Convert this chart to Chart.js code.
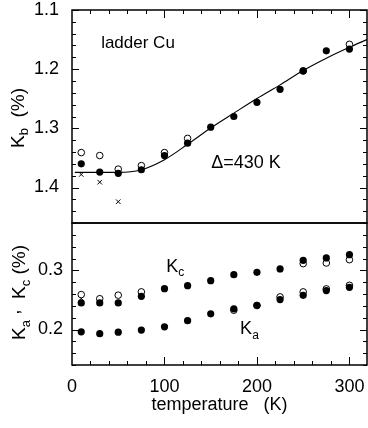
<!DOCTYPE html>
<html>
<head>
<meta charset="utf-8">
<script src="https://cdn.jsdelivr.net/npm/chart.js@4/dist/chart.umd.min.js"></script>
<style>
  body { margin: 0; background: #fff; }
  #wrap { position: relative; width: 368px; height: 428px; }
  canvas { position: absolute; left: 0; }
</style>
</head>
<body>
<div id="wrap">
  <canvas id="topChart" width="368" height="224" style="top:0"></canvas>
  <canvas id="botChart" width="368" height="206" style="top:222px"></canvas>
</div>
<script>
// temperatures (K)
const temps = [10, 30, 50, 75, 100, 125, 150, 175, 200, 225, 250, 275, 300];

// Kb (%) - top panel
const kbFilled = [1.360, 1.374, 1.376, 1.370, 1.346, 1.325, 1.298, 1.280, 1.256, 1.234, 1.203, 1.169, 1.166];
const kbOpenTemps = [10, 30, 50, 75, 100, 125, 250, 300];
const kbOpen = [1.341, 1.346, 1.369, 1.363, 1.341, 1.317, 1.203, 1.158];
const kbCrossTemps = [10, 30, 50];
const kbCross = [1.378, 1.391, 1.424];
// fit curve, Delta = 430 K
const fitTemps = [3, 25, 50, 75, 100, 125, 150, 175, 200, 225, 250, 275, 300, 319];
const fitKb = [1.3745, 1.3745, 1.3745, 1.370, 1.353, 1.327, 1.2995, 1.2743, 1.2495, 1.2265, 1.2023, 1.1815, 1.163, 1.150];

// Kc, Ka (%) - bottom panel
const kcFilled = [0.245, 0.245, 0.245, 0.256, 0.269, 0.274, 0.2826, 0.2927, 0.2966, 0.3023, 0.317, 0.321, 0.3265];
const kcOpenTemps = [10, 30, 50, 75, 250, 275, 300];
const kcOpen = [0.259, 0.252, 0.258, 0.2636, 0.3113, 0.3124, 0.318];
const kcCrossTemps = [10];
const kcCross = [0.2525];
const kaFilled = [0.196, 0.193, 0.1955, 0.199, 0.2045, 0.215, 0.2265, 0.235, 0.241, 0.2506, 0.2578, 0.2658, 0.2713];
const kaOpenTemps = [175, 200, 225, 250, 275, 300];
const kaOpen = [0.2326, 0.2405, 0.2551, 0.2636, 0.2686, 0.2747];

// tick labels
const xTicks = [0, 100, 200, 300];
const kbTicks = [1.1, 1.2, 1.3, 1.4];
const kakcTicks = [0.2, 0.3];

Chart.defaults.font.family = "'Liberation Sans', Arial, Helvetica, sans-serif";
Chart.defaults.color = '#000';

const pts = (xs, ys) => xs.map((x, i) => ({ x: x, y: ys[i] }));

const filled = (data) => ({ data, pointRadius: 3.6, pointBackgroundColor: '#000', pointBorderColor: '#000', pointBorderWidth: 0, order: 0 });
const open = (data) => ({ data, pointRadius: 3.3, pointBackgroundColor: '#fff', pointBorderColor: '#000', pointBorderWidth: 1, order: 1 });
const cross = (data) => ({ data, pointStyle: 'crossRot', pointRadius: 3.2, pointBorderColor: '#000', pointBorderWidth: 1, order: 2 });

// no automatic label padding: the plot box is set by layout.padding only
const noPad = s => { s.paddingTop = 0; s.paddingBottom = 0; s.paddingLeft = 0; s.paddingRight = 0; };

// frame + inward ticks
const frameTicks = {
  id: 'frameTicks',
  afterDraw(chart, args, opts) {
    const { ctx, chartArea: a, scales: { x, y } } = chart;
    ctx.save();
    ctx.strokeStyle = '#000';
    ctx.lineWidth = 1.5;
    ctx.strokeRect(a.left, a.top, a.right - a.left, a.bottom - a.top);
    ctx.lineWidth = 1;
    ctx.beginPath();
    const i0 = Math.ceil(Math.min(y.min, y.max) / 0.02 - 1e-6);
    const i1 = Math.floor(Math.max(y.min, y.max) / 0.02 + 1e-6);
    for (let i = i0; i <= i1; i++) {
      const py = Math.round(y.getPixelForValue(i * 0.02)) + 0.5;
      const len = i % 5 === 0 ? 7 : 4;
      ctx.moveTo(a.left, py); ctx.lineTo(a.left + len, py);
      ctx.moveTo(a.right, py); ctx.lineTo(a.right - len, py);
    }
    for (let i = 1; i * 20 <= x.max; i++) {
      const px = Math.round(x.getPixelForValue(i * 20)) + 0.5;
      const len = i % 5 === 0 ? 8 : 4;
      if (opts.side === 'top') { ctx.moveTo(px, a.top); ctx.lineTo(px, a.top + len); }
      else { ctx.moveTo(px, a.bottom); ctx.lineTo(px, a.bottom - len); }
    }
    ctx.stroke();
    ctx.restore();
  }
};

// text with subscripts
function measureRich(ctx, parts, size) {
  let w = 0;
  parts.forEach(p => {
    ctx.font = (p.sub ? Math.round(size * 0.68) : size) + "px 'Liberation Sans', Arial, sans-serif";
    p.w = ctx.measureText(p.t).width; w += p.w;
  });
  return w;
}
function fillRich(ctx, parts, size, x, y) {
  let cx = x;
  parts.forEach(p => {
    ctx.font = (p.sub ? Math.round(size * 0.68) : size) + "px 'Liberation Sans', Arial, sans-serif";
    ctx.fillText(p.t, cx, y + (p.dy || (p.sub ? size * 0.25 : 0)));
    cx += p.w;
  });
}
const notes = {
  id: 'notes',
  afterDraw(chart, args, opts) {
    const { ctx, scales: { x, y } } = chart;
    ctx.save();
    ctx.fillStyle = '#000';
    ctx.textBaseline = 'alphabetic';
    ctx.textAlign = 'left';
    opts.items.forEach(it => {
      const w = measureRich(ctx, it.parts, it.size);
      if (it.rot) {
        ctx.save();
        ctx.translate(it.px, it.py);
        ctx.rotate(-Math.PI / 2);
        fillRich(ctx, it.parts, it.size, -w / 2, 0);
        ctx.restore();
      } else {
        fillRich(ctx, it.parts, it.size, x.getPixelForValue(it.t), y.getPixelForValue(it.v));
      }
    });
    ctx.restore();
  }
};

const xBase = { type: 'linear', min: 0, max: 319, grid: { display: false, drawTicks: false }, border: { display: false } };
const yBase = (min, max, list, pad) => ({
  min, max,
  afterBuildTicks: s => { s.ticks = list.map(v => ({ value: v })); },
  afterFit: s => { s.width = 72; noPad(s); },
  grid: { display: false, drawTicks: false },
  border: { display: false },
  ticks: { padding: pad, color: '#000', font: { size: 18, lineHeight: 1 }, callback: v => v.toFixed(1) }
});

new Chart(document.getElementById('topChart'), {
  type: 'scatter',
  data: {
    datasets: [
      filled(pts(temps, kbFilled)),
      open(pts(kbOpenTemps, kbOpen)),
      cross(pts(kbCrossTemps, kbCross)),
      { data: pts(fitTemps, fitKb), showLine: true, pointRadius: 0, borderColor: '#000', borderWidth: 1.1,
        cubicInterpolationMode: 'monotone', order: 3 }
    ]
  },
  options: {
    responsive: false,
    animation: false,
    layout: { autoPadding: false, padding: { top: 10, bottom: 1, right: 1, left: 0 } },
    scales: {
      x: Object.assign({}, xBase, { display: false }),
      y: Object.assign(yBase(1.1, 1.46, kbTicks, 13), { reverse: true })
    },
    plugins: {
      legend: { display: false },
      tooltip: { enabled: false },
      frameTicks: { side: 'top' },
      notes: {
        items: [
          { parts: [{ t: 'ladder Cu' }], size: 17, t: 31.5, v: 1.164 },
          { parts: [{ t: '\u0394=430 K' }], size: 18, t: 150.5, v: 1.367 },
          { parts: [{ t: 'K' }, { t: 'b', sub: true }, { t: '  (%)' }], size: 19, rot: true, px: 23.5, py: 118 }
        ]
      }
    }
  },
  plugins: [frameTicks, notes]
});

new Chart(document.getElementById('botChart'), {
  type: 'scatter',
  data: {
    datasets: [
      filled(pts(temps, kcFilled)),
      open(pts(kcOpenTemps, kcOpen)),
      cross(pts(kcCrossTemps, kcCross)),
      filled(pts(temps, kaFilled)),
      open(pts(kaOpenTemps, kaOpen))
    ]
  },
  options: {
    responsive: false,
    animation: false,
    layout: { autoPadding: false, padding: { top: 1, bottom: 0, right: 1, left: 0 } },
    scales: {
      x: Object.assign({}, xBase, {
        afterBuildTicks: s => { s.ticks = xTicks.map(v => ({ value: v })); },
        afterFit: s => { s.height = 63; noPad(s); },
        ticks: { padding: 11, maxRotation: 0, color: '#000', font: { size: 18 } },
        title: { display: true, text: 'temperature   (K)', color: '#000', font: { size: 18 }, padding: { top: 12, bottom: 12 } }
      }),
      y: yBase(0.14, 0.38, kakcTicks, 9)
    },
    plugins: {
      legend: { display: false },
      tooltip: { enabled: false },
      frameTicks: { side: 'bottom' },
      notes: {
        items: [
          { parts: [{ t: 'K' }, { t: 'c', sub: true }], size: 18, t: 101.8, v: 0.298 },
          { parts: [{ t: 'K' }, { t: 'a', sub: true }], size: 18, t: 181.8, v: 0.1916 },
          { parts: [{ t: 'K' }, { t: 'a', sub: true }, { t: ' ,', dy: -6 }, { t: '  K' }, { t: 'c', sub: true }, { t: ' (%)' }],
            size: 19, rot: true, px: 25, py: 70.5 }
        ]
      }
    }
  },
  plugins: [frameTicks, notes]
});
</script>
</body>
</html>
